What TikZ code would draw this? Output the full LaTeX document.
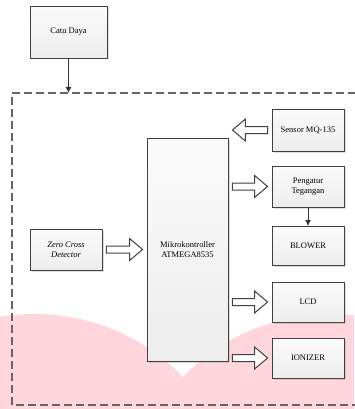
\documentclass[tikz,border=0pt]{standalone}
\usepackage{fontspec}
\setmainfont{Liberation Serif}
\usetikzlibrary{calc,shadows,arrows.meta}

\definecolor{wmpink}{RGB}{255,214,219}

% hollow block arrow between two named points
\newcommand{\blockarrow}[2]{%
  \path ($(#1)!4pt!(#2)$) coordinate (ba-s)
        ($(#2)!4pt!(#1)$) coordinate (ba-t)
        ($(#2)!17pt!(#1)$) coordinate (ba-h);
  \draw[hollow] ([yshift=3.5pt]ba-s) -- ([yshift=3.5pt]ba-h) -- ([yshift=11pt]ba-h)
    -- (ba-t) -- ([yshift=-11pt]ba-h) -- ([yshift=-3.5pt]ba-h)
    -- ([yshift=-3.5pt]ba-s) -- cycle;}

\begin{document}
\begin{tikzpicture}[x=1pt,y=-1pt,
        font=\fontsize{8.5}{10.5}\selectfont,
        box/.style={draw=black!75,line width=0.9pt,top color=gray!3,bottom color=gray!14,
                    drop shadow={shadow xshift=1.5pt,shadow yshift=-1.5pt,opacity=0.25},
                    align=center,inner sep=2pt},
        hollow/.style={draw=black!75,fill=white,line width=1pt,line join=miter},
        frame/.style={draw=black!60,line width=1.3pt,dash pattern=on 8pt off 4pt},
        feed/.style={draw=black!80,line width=0.9pt,-{Latex[length=6pt,width=6pt]}}]
        \useasboundingbox (0,0) rectangle (354,409);

        \begin{scope}
        \clip (0,0) rectangle (354,409);
        \fill[wmpink] (35,519) circle (205pt);
        \fill[wmpink] (331,519) circle (205pt);
        \end{scope}

        \node[box,minimum width=77pt,minimum height=52pt] (catu) at (68.5,32) {Catu Daya};
        \node[box,minimum width=81pt,minimum height=223pt] (mcu) at (187.5,249.5) {Mikrokontroller\\ATMEGA8535};
        \node[box,minimum width=72pt,minimum height=41pt,font=\fontsize{8.5}{10.5}\selectfont\itshape] (zcd) at (66,249.5) {Zero Cross\\Detector};
        \node[box,minimum width=72pt,minimum height=42pt] (sensor) at (308,130) {Sensor MQ-135};
        \node[box,minimum width=72pt,minimum height=41pt] (reg) at (308,186.5) {Pengatur\\Tegangan};
        \node[box,minimum width=72pt,minimum height=39pt] (blower) at (308,246) {BLOWER};
        \node[box,minimum width=72pt,minimum height=40pt] (lcd) at (308,302) {LCD};
        \node[box,minimum width=72pt,minimum height=40pt] (ion) at (308,358) {IONIZER};

        \coordinate (frtl) at (12,93);
        \coordinate (frbl) at (12,405);
        \draw[frame] (356,93) -- (frtl) -- (frbl) -- (356,405);

        \draw[feed] (catu.south) -- (catu.south |- frtl);
        \draw[feed] (reg.south) -- (blower.north);

        \blockarrow{zcd.east}{mcu.west |- zcd.east}
        \blockarrow{sensor.west}{mcu.east |- sensor.west}
        \blockarrow{mcu.east |- reg.west}{reg.west}
        \blockarrow{mcu.east |- lcd.west}{lcd.west}
        \blockarrow{mcu.east |- ion.west}{ion.west}
\end{tikzpicture}
\end{document}
